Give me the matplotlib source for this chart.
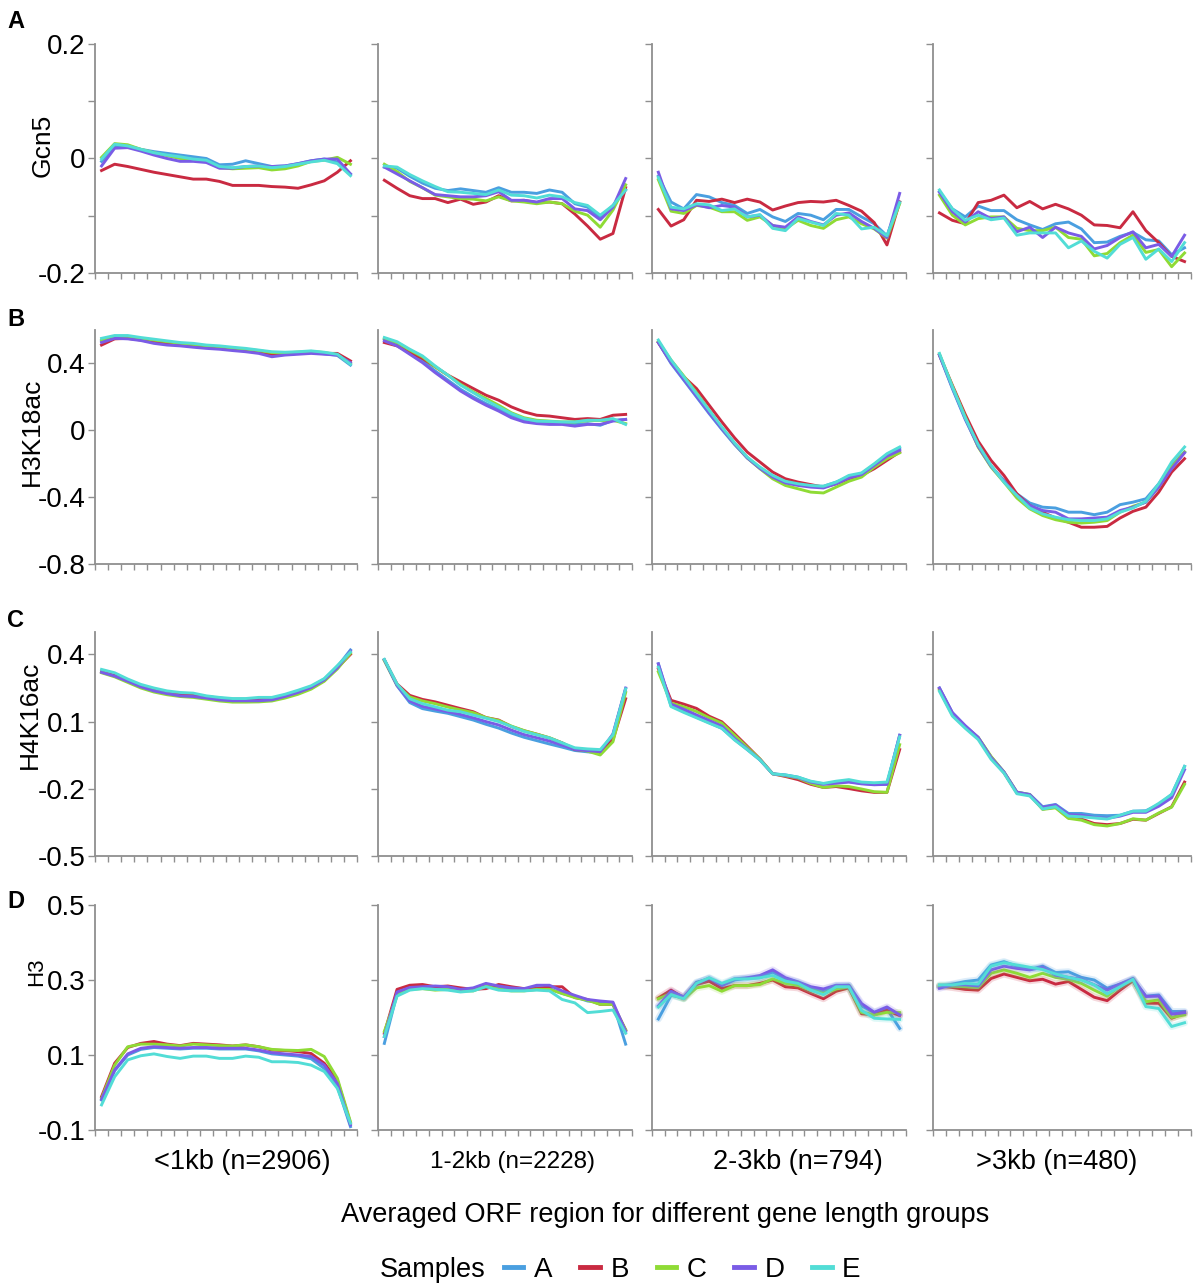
import matplotlib
matplotlib.use("Agg")
import matplotlib.pyplot as plt
import numpy as np

plt.rcParams['font.family'] = ['Liberation Sans', 'DejaVu Sans']

# ---------------- data ----------------
samples = ["A", "B", "C", "D", "E"]
colors = {"A": "#4A9FE0", "B": "#C92A41", "C": "#8FDB35", "D": "#7A5CE6", "E": "#52DDD6"}
row_labels = ["Gcn5", "H3K18ac", "H4K16ac", "H3"]
panel_letters = ["A", "B", "C", "D"]
group_labels = ["<1kb (n=2906)", "1-2kb (n=2228)", "2-3kb (n=794)", ">3kb (n=480)"]
x_title = "Averaged ORF region for different gene length groups"

gcn5_lt1kb = {
    "A": [-0.005, 0.022, 0.022, 0.016, 0.012, 0.009, 0.006, 0.003, 0.0, -0.011, -0.010, -0.004, -0.009, -0.014, -0.013, -0.009, -0.004, -0.001, -0.006, -0.027],
    "B": [-0.021, -0.010, -0.014, -0.019, -0.024, -0.028, -0.032, -0.036, -0.036, -0.040, -0.047, -0.047, -0.047, -0.049, -0.050, -0.052, -0.046, -0.039, -0.024, -0.004],
    "C": [0.002, 0.026, 0.024, 0.016, 0.010, 0.005, 0.000, -0.003, -0.005, -0.016, -0.018, -0.017, -0.016, -0.020, -0.018, -0.013, -0.005, -0.003, 0.002, -0.010],
    "D": [-0.013, 0.018, 0.019, 0.013, 0.006, 0.000, -0.005, -0.005, -0.007, -0.017, -0.017, -0.014, -0.013, -0.014, -0.013, -0.009, -0.004, -0.001, -0.001, -0.027],
    "E": [-0.001, 0.025, 0.022, 0.016, 0.010, 0.006, 0.003, -0.001, -0.003, -0.014, -0.016, -0.014, -0.013, -0.016, -0.014, -0.010, -0.006, -0.003, -0.009, -0.030],
}
gcn5_1to2kb = {
    "A": [-0.015, -0.017, -0.031, -0.043, -0.052, -0.056, -0.053, -0.056, -0.059, -0.051, -0.059, -0.059, -0.061, -0.055, -0.059, -0.079, -0.085, -0.103, -0.082, -0.055],
    "B": [-0.038, -0.052, -0.065, -0.070, -0.070, -0.077, -0.071, -0.080, -0.076, -0.065, -0.074, -0.073, -0.077, -0.076, -0.079, -0.097, -0.118, -0.141, -0.131, -0.051],
    "C": [-0.010, -0.023, -0.040, -0.051, -0.064, -0.067, -0.070, -0.071, -0.074, -0.067, -0.074, -0.076, -0.079, -0.076, -0.079, -0.092, -0.099, -0.120, -0.090, -0.046],
    "D": [-0.015, -0.027, -0.039, -0.051, -0.063, -0.065, -0.067, -0.067, -0.065, -0.058, -0.073, -0.073, -0.076, -0.070, -0.070, -0.088, -0.091, -0.107, -0.085, -0.035],
    "E": [-0.013, -0.015, -0.028, -0.039, -0.049, -0.058, -0.059, -0.061, -0.063, -0.055, -0.064, -0.065, -0.069, -0.064, -0.067, -0.077, -0.082, -0.099, -0.082, -0.055],
}
gcn5_2to3kb = {
    "A": [-0.031, -0.076, -0.088, -0.063, -0.067, -0.077, -0.082, -0.096, -0.089, -0.102, -0.110, -0.096, -0.099, -0.107, -0.089, -0.089, -0.102, -0.114, -0.135, -0.076],
    "B": [-0.089, -0.118, -0.107, -0.073, -0.075, -0.071, -0.077, -0.071, -0.076, -0.090, -0.083, -0.077, -0.075, -0.076, -0.073, -0.082, -0.092, -0.112, -0.151, -0.076],
    "C": [-0.037, -0.092, -0.096, -0.082, -0.085, -0.093, -0.093, -0.108, -0.102, -0.117, -0.123, -0.108, -0.117, -0.122, -0.107, -0.102, -0.114, -0.123, -0.139, -0.079],
    "D": [-0.024, -0.088, -0.091, -0.081, -0.086, -0.082, -0.085, -0.102, -0.099, -0.117, -0.120, -0.102, -0.110, -0.116, -0.099, -0.095, -0.110, -0.122, -0.138, -0.061],
    "E": [-0.033, -0.085, -0.088, -0.079, -0.081, -0.091, -0.088, -0.102, -0.098, -0.122, -0.126, -0.105, -0.111, -0.117, -0.096, -0.099, -0.123, -0.120, -0.135, -0.077],
}
gcn5_gt3kb = {
    "A": [-0.058, -0.088, -0.102, -0.083, -0.091, -0.091, -0.107, -0.116, -0.124, -0.114, -0.111, -0.123, -0.147, -0.146, -0.136, -0.129, -0.142, -0.144, -0.168, -0.156],
    "B": [-0.095, -0.108, -0.114, -0.077, -0.073, -0.064, -0.086, -0.075, -0.088, -0.080, -0.088, -0.099, -0.116, -0.117, -0.121, -0.093, -0.126, -0.147, -0.171, -0.180],
    "C": [-0.064, -0.099, -0.116, -0.105, -0.102, -0.102, -0.122, -0.126, -0.126, -0.120, -0.138, -0.141, -0.170, -0.166, -0.147, -0.134, -0.164, -0.159, -0.189, -0.165],
    "D": [-0.059, -0.093, -0.111, -0.093, -0.105, -0.102, -0.128, -0.120, -0.138, -0.120, -0.130, -0.136, -0.158, -0.152, -0.138, -0.128, -0.156, -0.150, -0.171, -0.134],
    "E": [-0.055, -0.088, -0.108, -0.099, -0.107, -0.104, -0.134, -0.130, -0.130, -0.130, -0.156, -0.144, -0.162, -0.174, -0.150, -0.138, -0.176, -0.158, -0.180, -0.147],
}

h3k18_lt1kb = {
    "A": [0.535, 0.56, 0.556, 0.545, 0.535, 0.525, 0.515, 0.508, 0.498, 0.492, 0.485, 0.478, 0.47, 0.455, 0.455, 0.46, 0.465, 0.458, 0.448, 0.39],
    "B": [0.51, 0.547, 0.55, 0.54, 0.527, 0.52, 0.51, 0.505, 0.498, 0.49, 0.483, 0.476, 0.468, 0.455, 0.455, 0.46, 0.465, 0.46, 0.46, 0.415],
    "C": [0.54, 0.56, 0.558, 0.55, 0.54, 0.53, 0.52, 0.513, 0.505, 0.50, 0.492, 0.485, 0.477, 0.465, 0.462, 0.468, 0.472, 0.465, 0.452, 0.40],
    "D": [0.525, 0.55, 0.547, 0.537, 0.52, 0.51, 0.505, 0.497, 0.49, 0.485, 0.477, 0.47, 0.46, 0.44, 0.45, 0.455, 0.46, 0.455, 0.45, 0.405],
    "E": [0.55, 0.567, 0.567, 0.555, 0.545, 0.535, 0.525, 0.52, 0.51, 0.505, 0.497, 0.49, 0.48, 0.47, 0.467, 0.47, 0.475, 0.467, 0.455, 0.395],
}
h3k18_1to2kb = {
    "A": [0.545, 0.515, 0.465, 0.415, 0.355, 0.3, 0.245, 0.2, 0.16, 0.125, 0.085, 0.06, 0.045, 0.042, 0.04, 0.035, 0.04, 0.03, 0.06, 0.065],
    "B": [0.525, 0.505, 0.465, 0.43, 0.38, 0.33, 0.29, 0.25, 0.21, 0.18, 0.14, 0.11, 0.09, 0.085, 0.075, 0.065, 0.07, 0.065, 0.09, 0.095],
    "C": [0.55, 0.525, 0.48, 0.44, 0.38, 0.33, 0.275, 0.23, 0.19, 0.15, 0.105, 0.075, 0.06, 0.055, 0.05, 0.05, 0.058, 0.058, 0.06, 0.04],
    "D": [0.535, 0.505, 0.455, 0.405, 0.345, 0.29, 0.235, 0.19, 0.15, 0.115, 0.075, 0.05, 0.04, 0.035, 0.035, 0.025, 0.035, 0.035, 0.055, 0.065],
    "E": [0.555, 0.53, 0.485, 0.445, 0.385, 0.33, 0.27, 0.225, 0.18, 0.14, 0.10, 0.07, 0.055, 0.053, 0.05, 0.05, 0.06, 0.06, 0.07, 0.035],
}
h3k18_2to3kb = {
    "A": [0.525, 0.40, 0.30, 0.20, 0.10, 0.005, -0.085, -0.165, -0.225, -0.275, -0.31, -0.325, -0.335, -0.335, -0.31, -0.28, -0.26, -0.205, -0.15, -0.11],
    "B": [0.525, 0.41, 0.32, 0.25, 0.15, 0.05, -0.045, -0.13, -0.19, -0.25, -0.29, -0.31, -0.325, -0.34, -0.32, -0.29, -0.27, -0.23, -0.18, -0.13],
    "C": [0.53, 0.42, 0.325, 0.225, 0.12, 0.015, -0.08, -0.165, -0.23, -0.29, -0.33, -0.35, -0.37, -0.375, -0.34, -0.305, -0.28, -0.22, -0.17, -0.135],
    "D": [0.525, 0.405, 0.305, 0.205, 0.105, 0.01, -0.08, -0.165, -0.228, -0.28, -0.315, -0.33, -0.34, -0.345, -0.32, -0.285, -0.265, -0.21, -0.155, -0.12],
    "E": [0.54, 0.42, 0.32, 0.22, 0.12, 0.02, -0.075, -0.16, -0.22, -0.27, -0.305, -0.32, -0.33, -0.335, -0.31, -0.27, -0.255, -0.2, -0.14, -0.10],
}
h3k18_gt3kb = {
    "A": [0.45, 0.25, 0.065, -0.095, -0.215, -0.30, -0.38, -0.435, -0.46, -0.465, -0.49, -0.49, -0.505, -0.49, -0.445, -0.43, -0.41, -0.32, -0.21, -0.13],
    "B": [0.45, 0.27, 0.095, -0.065, -0.18, -0.27, -0.38, -0.45, -0.49, -0.525, -0.55, -0.58, -0.58, -0.575, -0.525, -0.485, -0.46, -0.37, -0.25, -0.17],
    "C": [0.455, 0.265, 0.08, -0.10, -0.22, -0.31, -0.405, -0.47, -0.51, -0.535, -0.55, -0.555, -0.55, -0.54, -0.49, -0.455, -0.43, -0.34, -0.22, -0.13],
    "D": [0.45, 0.255, 0.07, -0.095, -0.215, -0.305, -0.39, -0.45, -0.48, -0.49, -0.53, -0.53, -0.525, -0.52, -0.48, -0.46, -0.43, -0.34, -0.23, -0.135],
    "E": [0.46, 0.26, 0.075, -0.085, -0.21, -0.31, -0.39, -0.465, -0.50, -0.52, -0.535, -0.54, -0.54, -0.53, -0.49, -0.465, -0.425, -0.32, -0.19, -0.10],
}

h4k16_lt1kb = {
    "A": [0.322, 0.305, 0.28, 0.255, 0.238, 0.226, 0.217, 0.213, 0.206, 0.198, 0.194, 0.194, 0.195, 0.198, 0.213, 0.232, 0.255, 0.29, 0.345, 0.42],
    "B": [0.322, 0.305, 0.28, 0.255, 0.24, 0.232, 0.225, 0.22, 0.212, 0.205, 0.2, 0.2, 0.198, 0.2, 0.212, 0.228, 0.25, 0.283, 0.34, 0.40],
    "C": [0.318, 0.3, 0.275, 0.25, 0.232, 0.22, 0.212, 0.208, 0.2, 0.192, 0.187, 0.187, 0.188, 0.192, 0.205, 0.222, 0.245, 0.28, 0.335, 0.405],
    "D": [0.32, 0.303, 0.28, 0.255, 0.237, 0.225, 0.215, 0.212, 0.205, 0.197, 0.193, 0.193, 0.193, 0.197, 0.212, 0.23, 0.252, 0.286, 0.34, 0.415],
    "E": [0.333, 0.318, 0.29, 0.266, 0.25, 0.237, 0.23, 0.227, 0.215, 0.208, 0.203, 0.203, 0.208, 0.208, 0.222, 0.24, 0.26, 0.292, 0.35, 0.41],
}
h4k16_1to2kb = {
    "A": [0.375, 0.26, 0.185, 0.158, 0.147, 0.137, 0.122, 0.107, 0.088, 0.071, 0.049, 0.03, 0.015, 0.0, -0.014, -0.029, -0.035, -0.039, 0.041, 0.246],
    "B": [0.375, 0.268, 0.217, 0.199, 0.188, 0.173, 0.158, 0.144, 0.118, 0.107, 0.078, 0.059, 0.044, 0.027, 0.005, -0.025, -0.029, -0.039, 0.019, 0.202],
    "C": [0.372, 0.262, 0.21, 0.192, 0.18, 0.165, 0.152, 0.14, 0.118, 0.105, 0.08, 0.06, 0.044, 0.028, 0.005, -0.022, -0.032, -0.049, 0.01, 0.23],
    "D": [0.376, 0.262, 0.192, 0.168, 0.156, 0.144, 0.132, 0.117, 0.1, 0.085, 0.062, 0.042, 0.028, 0.013, -0.005, -0.024, -0.03, -0.034, 0.045, 0.25],
    "E": [0.378, 0.268, 0.202, 0.18, 0.166, 0.151, 0.144, 0.129, 0.115, 0.10, 0.078, 0.056, 0.041, 0.027, 0.005, -0.017, -0.022, -0.025, 0.041, 0.246],
}
h4k16_2to3kb = {
    "A": [0.358, 0.17, 0.145, 0.12, 0.095, 0.07, 0.02, -0.025, -0.071, -0.133, -0.138, -0.148, -0.168, -0.178, -0.172, -0.168, -0.176, -0.18, -0.18, 0.039],
    "B": [0.336, 0.195, 0.178, 0.159, 0.124, 0.099, 0.046, -0.01, -0.067, -0.133, -0.145, -0.159, -0.18, -0.194, -0.19, -0.199, -0.209, -0.216, -0.216, -0.025],
    "C": [0.322, 0.183, 0.166, 0.145, 0.117, 0.093, 0.039, -0.015, -0.067, -0.133, -0.142, -0.152, -0.176, -0.194, -0.187, -0.19, -0.201, -0.213, -0.216, -0.003],
    "D": [0.358, 0.178, 0.155, 0.13, 0.105, 0.08, 0.025, -0.022, -0.07, -0.133, -0.14, -0.15, -0.17, -0.18, -0.175, -0.17, -0.178, -0.182, -0.18, 0.039],
    "E": [0.343, 0.167, 0.141, 0.117, 0.093, 0.07, 0.018, -0.025, -0.071, -0.133, -0.138, -0.148, -0.166, -0.176, -0.166, -0.159, -0.17, -0.173, -0.17, 0.032],
}
h4k16_gt3kb = {
    "A": [0.25, 0.14, 0.08, 0.028, -0.058, -0.125, -0.215, -0.225, -0.28, -0.27, -0.31, -0.31, -0.318, -0.32, -0.318, -0.3, -0.298, -0.27, -0.225, -0.10],
    "B": [0.245, 0.135, 0.078, 0.026, -0.06, -0.128, -0.218, -0.228, -0.29, -0.282, -0.33, -0.335, -0.355, -0.36, -0.355, -0.336, -0.34, -0.31, -0.28, -0.17],
    "C": [0.24, 0.13, 0.075, 0.03, -0.055, -0.125, -0.215, -0.226, -0.292, -0.285, -0.332, -0.34, -0.36, -0.366, -0.355, -0.334, -0.34, -0.308, -0.282, -0.18],
    "D": [0.25, 0.14, 0.082, 0.03, -0.06, -0.125, -0.215, -0.226, -0.283, -0.272, -0.315, -0.318, -0.328, -0.332, -0.322, -0.305, -0.305, -0.278, -0.24, -0.115],
    "E": [0.235, 0.125, 0.07, 0.02, -0.068, -0.13, -0.222, -0.232, -0.29, -0.28, -0.322, -0.325, -0.33, -0.335, -0.318, -0.3, -0.3, -0.265, -0.225, -0.10],
}

h3_lt1kb = {
    "A": [-0.02, 0.058, 0.1, 0.115, 0.12, 0.118, 0.116, 0.118, 0.118, 0.116, 0.116, 0.116, 0.111, 0.103, 0.1, 0.097, 0.09, 0.064, 0.016, -0.091],
    "B": [-0.011, 0.078, 0.12, 0.131, 0.136, 0.129, 0.125, 0.131, 0.129, 0.127, 0.124, 0.127, 0.122, 0.113, 0.112, 0.109, 0.104, 0.078, 0.033, -0.082],
    "C": [-0.016, 0.073, 0.122, 0.129, 0.129, 0.127, 0.124, 0.129, 0.127, 0.125, 0.124, 0.127, 0.122, 0.115, 0.113, 0.112, 0.115, 0.096, 0.038, -0.078],
    "D": [-0.018, 0.06, 0.103, 0.118, 0.122, 0.12, 0.118, 0.12, 0.12, 0.118, 0.118, 0.118, 0.113, 0.106, 0.103, 0.1, 0.096, 0.073, 0.024, -0.087],
    "E": [-0.033, 0.042, 0.087, 0.098, 0.103, 0.096, 0.091, 0.097, 0.097, 0.091, 0.091, 0.097, 0.094, 0.082, 0.082, 0.08, 0.073, 0.056, 0.011, -0.082],
}
h3_1to2kb = {
    "A": [0.131, 0.263, 0.277, 0.28, 0.28, 0.277, 0.273, 0.277, 0.288, 0.28, 0.275, 0.275, 0.28, 0.277, 0.264, 0.255, 0.244, 0.241, 0.238, 0.129],
    "B": [0.158, 0.275, 0.286, 0.288, 0.282, 0.284, 0.279, 0.275, 0.277, 0.288, 0.282, 0.277, 0.277, 0.282, 0.282, 0.253, 0.248, 0.235, 0.235, 0.167],
    "C": [0.163, 0.259, 0.275, 0.277, 0.273, 0.275, 0.271, 0.271, 0.284, 0.275, 0.271, 0.271, 0.275, 0.275, 0.264, 0.253, 0.246, 0.235, 0.235, 0.167],
    "D": [0.149, 0.268, 0.28, 0.282, 0.284, 0.282, 0.275, 0.279, 0.291, 0.284, 0.279, 0.277, 0.286, 0.286, 0.271, 0.259, 0.248, 0.244, 0.241, 0.163],
    "E": [0.149, 0.257, 0.273, 0.277, 0.275, 0.273, 0.268, 0.271, 0.282, 0.273, 0.271, 0.271, 0.273, 0.271, 0.248, 0.239, 0.213, 0.216, 0.22, 0.158],
}
h3_2to3kb = {
    "A": [0.196, 0.259, 0.252, 0.294, 0.303, 0.285, 0.3, 0.305, 0.306, 0.321, 0.303, 0.294, 0.277, 0.27, 0.285, 0.286, 0.231, 0.213, 0.223, 0.171],
    "B": [0.252, 0.273, 0.252, 0.288, 0.297, 0.277, 0.285, 0.285, 0.291, 0.3, 0.282, 0.279, 0.264, 0.25, 0.27, 0.279, 0.21, 0.207, 0.219, 0.205],
    "C": [0.25, 0.264, 0.25, 0.279, 0.285, 0.27, 0.285, 0.285, 0.288, 0.303, 0.291, 0.286, 0.273, 0.264, 0.276, 0.282, 0.214, 0.207, 0.214, 0.213],
    "D": [0.231, 0.27, 0.255, 0.291, 0.305, 0.286, 0.303, 0.306, 0.312, 0.327, 0.306, 0.295, 0.282, 0.276, 0.286, 0.286, 0.237, 0.214, 0.228, 0.207],
    "E": [0.228, 0.261, 0.25, 0.291, 0.306, 0.291, 0.303, 0.303, 0.306, 0.312, 0.297, 0.291, 0.273, 0.261, 0.282, 0.282, 0.219, 0.198, 0.196, 0.195],
}
h3_gt3kb = {
    "A": [0.282, 0.289, 0.296, 0.3, 0.34, 0.349, 0.337, 0.328, 0.337, 0.32, 0.322, 0.307, 0.3, 0.278, 0.289, 0.302, 0.257, 0.26, 0.216, 0.216],
    "B": [0.284, 0.28, 0.275, 0.273, 0.304, 0.316, 0.307, 0.298, 0.302, 0.289, 0.296, 0.275, 0.254, 0.245, 0.273, 0.298, 0.238, 0.238, 0.198, 0.211],
    "C": [0.284, 0.284, 0.282, 0.28, 0.318, 0.327, 0.318, 0.307, 0.318, 0.307, 0.302, 0.291, 0.273, 0.257, 0.284, 0.3, 0.242, 0.247, 0.2, 0.207],
    "D": [0.278, 0.287, 0.287, 0.284, 0.327, 0.337, 0.331, 0.327, 0.334, 0.313, 0.307, 0.302, 0.287, 0.273, 0.289, 0.304, 0.256, 0.257, 0.209, 0.213],
    "E": [0.287, 0.287, 0.291, 0.289, 0.337, 0.346, 0.34, 0.334, 0.328, 0.316, 0.307, 0.3, 0.287, 0.263, 0.282, 0.302, 0.229, 0.224, 0.176, 0.186],
}

panel_data = [
    [gcn5_lt1kb, gcn5_1to2kb, gcn5_2to3kb, gcn5_gt3kb],
    [h3k18_lt1kb, h3k18_1to2kb, h3k18_2to3kb, h3k18_gt3kb],
    [h4k16_lt1kb, h4k16_1to2kb, h4k16_2to3kb, h4k16_gt3kb],
    [h3_lt1kb, h3_1to2kb, h3_2to3kb, h3_gt3kb],
]

row_ylims = [(-0.2, 0.2), (-0.8, 0.6), (-0.5, 0.5), (-0.1, 0.5)]
row_yticks = [[-0.2, -0.1, 0.0, 0.1, 0.2], [-0.8, -0.4, 0.0, 0.4], [-0.5, -0.2, 0.1, 0.4], [-0.1, 0.1, 0.3, 0.5]]
row_yticklabels = [["-0.2", "", "0", "", "0.2"], ["-0.8", "-0.4", "0", "0.4"],
                   ["-0.5", "-0.2", "0.1", "0.4"], ["-0.1", "0.1", "0.3", "0.5"]]

# ---------------- layout (pixels) ----------------
W, H = 1200, 1288
fig = plt.figure(figsize=(W / 100, H / 100), dpi=100)
cols_px = [(95, 357), (378, 632), (652, 906), (933, 1191)]
rows_px = [(44, 273), (330, 564), (632, 856), (905, 1130)]
axis_grey = "#8f8f8f"
# y-label anchor positions (pixels) and font sizes
ylabel_px = [(55, 145), (44, 432), (42, 715), (47, 972)]
ylabel_fs = [19, 19, 19, 16]

def px_axes(x0, x1, y0, y1):
    return fig.add_axes([x0 / W, 1 - y1 / H, (x1 - x0) / W, (y1 - y0) / H])

first_lines = []
for r in range(4):
    for c in range(4):
        x0, x1 = cols_px[c]
        y0, y1 = rows_px[r]
        ax = px_axes(x0, x1, y0, y1)
        d = panel_data[r][c]
        xs = np.arange(len(d["A"]))
        for s in samples:
            if r == 3 and c >= 2:
                ax.plot(xs, d[s], color=colors[s], lw=5, alpha=0.18, solid_capstyle="round")
            ln, = ax.plot(xs, d[s], color=colors[s], lw=2.1, label=s)
            if r == 0 and c == 0:
                first_lines.append(ln)
        ax.set_xlim(-0.5, len(xs) - 0.5)
        ax.set_ylim(*row_ylims[r])
        ax.set_xticks(np.arange(-0.5, len(xs), 1.0))
        ax.set_xticklabels([])
        ax.set_yticks(row_yticks[r])
        if c == 0:
            ax.set_yticklabels(row_yticklabels[r], fontsize=20)
            ax.set_ylabel(row_labels[r], fontsize=ylabel_fs[r])
            lx, ly = ylabel_px[r]
            ax.yaxis.set_label_coords((lx - x0) / (x1 - x0), (y1 - ly) / (y1 - y0))
        else:
            ax.set_yticklabels([])
        for sp in ["top", "right"]:
            ax.spines[sp].set_visible(False)
        for sp in ["left", "bottom"]:
            ax.spines[sp].set_color(axis_grey)
            ax.spines[sp].set_linewidth(1.3)
        ax.tick_params(axis="both", colors=axis_grey, labelcolor="black", length=5, width=1.0, direction="out", pad=2)
        ax.tick_params(axis="x", length=4)
        ax.set_facecolor("none")

# panel letters
for letter, ypx in zip(panel_letters, [21, 320, 620, 901]):
    fig.text(7 / W, 1 - ypx / H, letter, fontsize=17, fontweight="bold", va="center", ha="left")

# group labels
for lab, xc, fs in zip(group_labels, [242, 512, 798, 1057], [19.5, 17.5, 19.5, 19.5]):
    fig.text(xc / W, 1 - 1162 / H, lab, fontsize=fs, ha="center", va="center")

fig.text(665 / W, 1 - 1215 / H, x_title, fontsize=19.5, ha="center", va="center")

# legend
fig.text(380 / W, 1 - 1270 / H, "Samples", fontsize=19.5, ha="left", va="center")
leg = fig.legend(first_lines, samples, loc="center left", bbox_to_anchor=(504 / W, 1 - 1270 / H),
                 ncol=5, frameon=False, handlelength=0.7, handletextpad=0.38, columnspacing=1.0,
                 fontsize=20, borderaxespad=0, borderpad=0)
for h in leg.legend_handles:
    h.set_linewidth(3.5)
for t in leg.get_texts():
    t.set_family(["Liberation Sans Narrow", "Liberation Sans", "DejaVu Sans"])

fig.savefig("out.png", dpi=100)
